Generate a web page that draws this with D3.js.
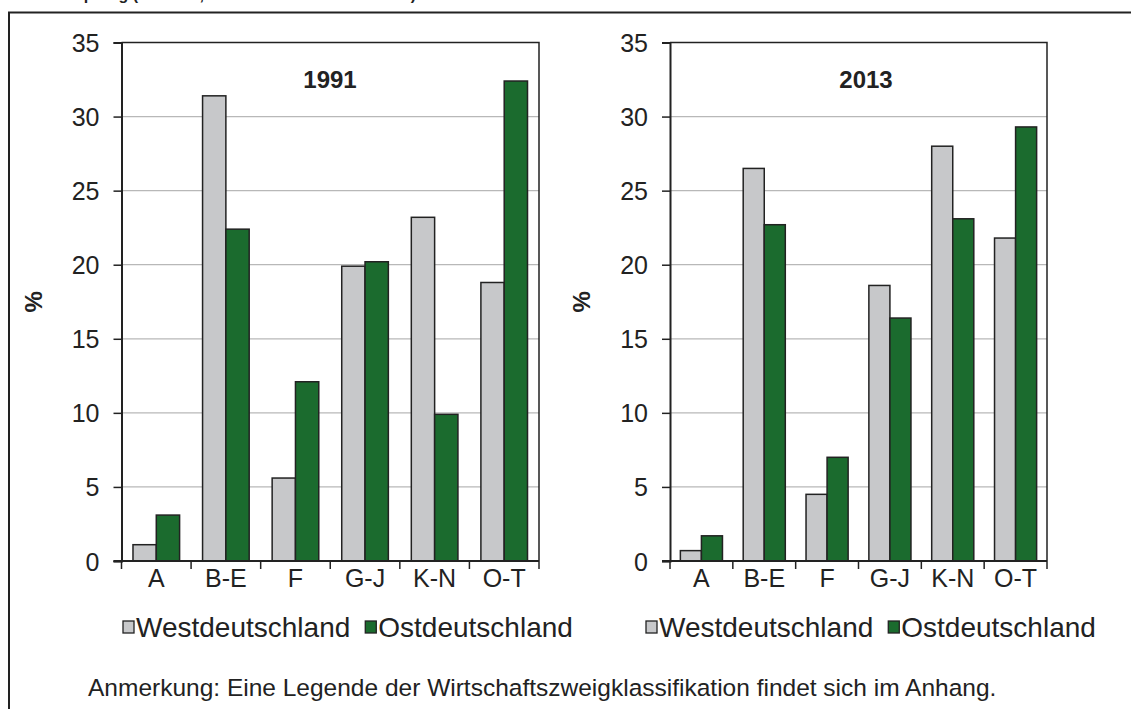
<!DOCTYPE html>
<html>
<head>
<meta charset="utf-8">
<script src="https://cdn.jsdelivr.net/npm/d3@7"></script>
<style>
    body { margin: 0; background: #fff; }
    svg { display: block; font-family: Arial, "Liberation Sans", sans-serif; }
    .grid line { stroke: #b8b8b8; stroke-width: 1.2; }
    .tick text { fill: #222; }
</style>
</head>
<body>
<script>
// Data
const categories = ['A', 'B-E', 'F', 'G-J', 'K-N', 'O-T'];
const seriesNames = ['Westdeutschland', 'Ostdeutschland'];
const west1991 = [1.1, 31.4, 5.6, 19.9, 23.2, 18.8];
const ost1991 = [3.1, 22.4, 12.1, 20.2, 9.9, 32.4];
const west2013 = [0.7, 26.5, 4.5, 18.6, 28.0, 21.8];
const ost2013 = [1.7, 22.7, 7.0, 16.4, 23.1, 29.3];
const yTicks = [0, 5, 10, 15, 20, 25, 30, 35];
const note = 'Anmerkung: Eine Legende der Wirtschaftszweigklassifikation findet sich im Anhang.';

const W = 1131, H = 709;
const colors = ['#c7c8ca', '#1b6b2e'];
const dark = '#222';

const svg = d3.select('body').append('svg')
    .attr('width', W)
    .attr('height', H);

svg.append('rect').attr('width', W).attr('height', H).attr('fill', '#fff');

// heading, cut off by the top edge like in the source
svg.append('text')
    .attr('x', 416)
    .attr('y', 0)
    .attr('text-anchor', 'end')
    .style('font-weight', 'bold')
    .style('font-size', '16px')
    .attr('fill', dark)
    .text('Bruttowertschöpfung (nominal, West- und Ostdeutschland)');

// outer frame
svg.append('path')
    .attr('d', 'M9,' + (H + 2) + 'V12.5H' + (W + 2))
    .attr('fill', 'none')
    .attr('stroke', dark)
    .attr('stroke-width', 2);

let y = d3.scaleLinear()
    .domain([0, 35])
    .range([561, 42.5]);

let drawPanel = function (left, right, year, west, ost, titleX, legendX) {
    let x = d3.scaleBand()
        .domain(categories)
        .range([left, right]);
    let bw = x.bandwidth();
    let xs = d3.scaleBand()
        .domain(seriesNames)
        .range([bw * 0.165, bw * 0.835]);

    let g = svg.append('g');

    // gridlines
    g.append('g')
        .attr('class', 'grid')
        .selectAll('line')
        .data(yTicks.filter(t => t > 0 && t < 35))
        .enter()
        .append('line')
        .attr('x1', left)
        .attr('x2', right)
        .attr('y1', d => y(d))
        .attr('y2', d => y(d));

    // plot frame top/right
    g.append('path')
        .attr('d', 'M' + left + ',' + y(35) + 'H' + right + 'V' + y(0))
        .attr('fill', 'none')
        .attr('stroke', dark)
        .attr('stroke-width', 1.5);

    // bars
    let rows = categories.map((c, i) => ({ cat: c, values: [west[i], ost[i]] }));
    let groups = g.selectAll('.cat')
        .data(rows)
        .enter()
        .append('g')
        .attr('transform', d => 'translate(' + x(d.cat) + ',0)');
    groups.selectAll('rect')
        .data(d => d.values.map((v, j) => ({ name: seriesNames[j], v: v, j: j })))
        .enter()
        .append('rect')
        .attr('x', d => xs(d.name))
        .attr('width', xs.bandwidth())
        .attr('y', d => y(d.v))
        .attr('height', d => y(0) - y(d.v))
        .attr('fill', d => colors[d.j])
        .attr('stroke', dark)
        .attr('stroke-width', 1.5);

    // y axis
    let yAxis = d3.axisLeft(y)
        .tickValues(yTicks)
        .tickSize(8)
        .tickPadding(14);
    let ya = g.append('g')
        .attr('transform', 'translate(' + left + ',0)')
        .call(yAxis);
    ya.select('.domain').attr('stroke', dark).attr('stroke-width', 2);
    ya.selectAll('.tick line').attr('stroke', dark).attr('stroke-width', 1.5);
    ya.selectAll('.tick text')
        .style('font-size', '25px')
        .style('font-family', 'Arial, "Liberation Sans", sans-serif')
        .attr('dy', '0.36em');

    // x axis: ticks on band boundaries
    g.append('line')
        .attr('x1', left - 8).attr('x2', right)
        .attr('y1', y(0)).attr('y2', y(0))
        .attr('stroke', dark).attr('stroke-width', 2);
    g.selectAll('.xtick')
        .data(categories.map(c => x(c)).concat([right]))
        .enter()
        .append('line')
        .attr('x1', d => d).attr('x2', d => d)
        .attr('y1', y(0)).attr('y2', y(0) + 8)
        .attr('stroke', dark).attr('stroke-width', 1.5);
    g.selectAll('.xlabel')
        .data(categories)
        .enter()
        .append('text')
        .attr('x', d => x(d) + bw / 2)
        .attr('y', 587)
        .attr('text-anchor', 'middle')
        .style('font-size', '25px')
        .attr('fill', dark)
        .text(d => d);

    // year title
    g.append('text')
        .attr('x', titleX)
        .attr('y', 88)
        .attr('text-anchor', 'middle')
        .style('font-size', '24px')
        .style('font-weight', 'bold')
        .attr('fill', dark)
        .text(year);

    // axis title
    g.append('text')
        .attr('transform', 'translate(' + (left - 80) + ',' + ((y(0) + y(35)) / 2) + ') rotate(-90)')
        .attr('text-anchor', 'middle')
        .style('font-size', '24px')
        .style('font-weight', 'bold')
        .attr('fill', dark)
        .text('%');

    // legend
    let lg = g.append('g').attr('transform', 'translate(' + legendX + ',627)');
    let offset = 0;
    seriesNames.forEach(function (name, i) {
        let item = lg.append('g').attr('transform', 'translate(' + offset + ',0)');
        item.append('rect')
            .attr('x', 1).attr('y', -6)
            .attr('width', 11).attr('height', 12)
            .attr('fill', colors[i])
            .attr('stroke', dark)
            .attr('stroke-width', 1.3);
        let t = item.append('text')
            .attr('x', 14)
            .attr('y', 10)
            .style('font-size', '28px')
            .attr('fill', dark)
            .text(name);
        offset += 14 + t.node().getComputedTextLength() + 14;
    });
};

drawPanel(121.5, 539, '1991', west1991, ost1991, 330, 122);
drawPanel(670, 1047, '2013', west2013, ost2013, 866, 645);

svg.append('text')
    .attr('x', 88)
    .attr('y', 696)
    .style('font-size', '24.5px')
    .attr('fill', dark)
    .text(note);
</script>
</body>
</html>
